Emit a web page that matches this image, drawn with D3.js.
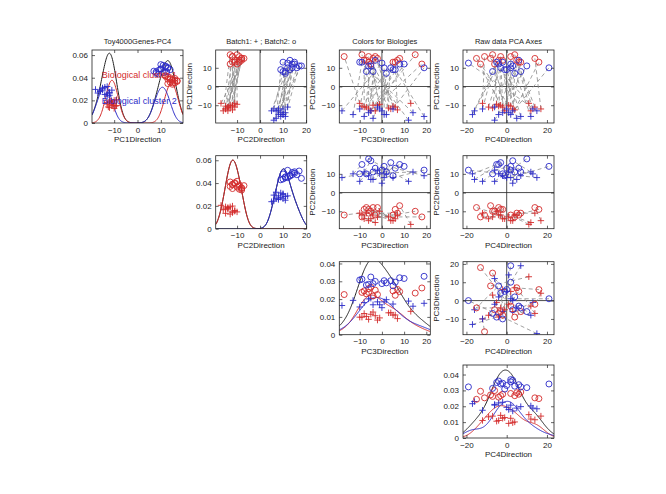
<!DOCTYPE html>
<html>
<head>
<meta charset="utf-8">
<script src="https://cdn.jsdelivr.net/npm/d3@7"></script>
<style>
body { margin: 0; background: #fff; }
text { font-family: "Liberation Sans", Arial, sans-serif; }
</style>
</head>
<body>
<svg id="chart" width="666" height="494"></svg>
<script>
// labels
const pcNames = ["PC1Direction", "PC2Direction", "PC3Direction", "PC4Direction"];
const titles = ["Toy4000Genes-PC4", "Batch1: + ; Batch2: o", "Colors for Biologies", "Raw data PCA Axes"];
const clusterNames = ["Biological cluster 1", "Biological cluster 2"];

// tick labels
const pcTicks = [[-10, 0, 10], [-10, 0, 10, 20], [-10, 0, 10, 20], [-20, 0, 20]];
const pcTicksY = [[-10, 0, 10], [-10, 0, 10, 20], [-10, 0, 10, 20], [-20, 0, 20]];
const densTicks = [[0, 0.02, 0.04, 0.06], [0, 0.02, 0.04, 0.06], [0, 0.01, 0.02, 0.03, 0.04], [0, 0.01, 0.02, 0.03, 0.04]];

// biological cluster 1 (red), batch 1 (+)
const redPlusPC1 = [-9, -11, -12, -10, -13, -9.5, -11.5, -10.5, -12.5, -9, -11, -13, -10, -12, -10.5, -11];
const redPlusPC2 = [-11, -14, -15, -12, -16, -10, -13, -15, -12, -17, -11, -14, -13, -15, -12, -14];
const redPlusPC3 = [-10, -8, -6, -4, -3, -1, 3, 5, 7, 13, -7, -5, -2, 4, -9, 6];
const redPlusPC4 = [-12, -9, 3, -3, 12, -5, -7, 2, 4, 11, 14, -1, 1, 17, -4, -2];
const redPlusHt = [0.24, 0.29, 0.21, 0.31, 0.26, 0.23, 0.30, 0.27, 0.22, 0.32, 0.25, 0.28, 0.20, 0.30, 0.24, 0.27];

// biological cluster 1 (red), batch 2 (o)
const redCircPC1 = [16, 14, 13, 15, 17, 12, 14, 16, 13, 15, 14, 17, 12, 15, 13, 16];
const redCircPC2 = [-12, -9, -11, -8, -13, -10, -8, -12, -9, -7, -11, -10, -13, -8, -12, -9];
const redCircPC3 = [-17, -8, -6, -4, -9, -5, -7, -3, 6, 8, 7, 15, 18, -2, 5, -6];
const redCircPC4 = [-11, -2, 7, -15, 4, -6, -4, 2, 16, -8, 5, -7, -13, 14, 6, -3];
const redCircHt = [0.55, 0.60, 0.63, 0.53, 0.58, 0.65, 0.56, 0.61, 0.54, 0.59, 0.62, 0.57, 0.64, 0.55, 0.60, 0.58];

// biological cluster 2 (blue), batch 1 (+)
const bluePlusPC1 = [-13, -15, -12, -16, -14, -17, -11, -13, -15, -12, -18, -14, -16, -13, -12, -15];
const bluePlusPC2 = [8, 10, 6, 11, 9, 7, 12, 5, 10, 8, 6, 11, 9, 7, 10, 8];
const bluePlusPC3 = [-18, -13, -10, -8, -6, -4, -2, 0, 2, 5, 12, 14, 19, -5, -1, 1];
const bluePlusPC4 = [15, -17, -12, 12, -2, 5, -6, 3, -4, 0, -6, 1, 7, -16, 13, 2];
const bluePlusHt = [0.40, 0.47, 0.38, 0.44, 0.49, 0.41, 0.45, 0.37, 0.48, 0.42, 0.46, 0.39, 0.43, 0.50, 0.41, 0.45];

// biological cluster 2 (blue), batch 2 (o)
const blueCircPC1 = [12.5, 13, 8, 11, 14, 9, 12, 7, 10, 10, 11, 13, 9, 12, 8, 10];
const blueCircPC2 = [12, 15, 10, 17, 13, 9, 14, 11, 16, 12, 18, 10, 13, 15, 11, 14];
const blueCircPC3 = [0, -9, -7, -5, -3, 5, 10, 2, 4, 19, -6, -10, 6, 8, -4, 1];
const blueCircPC4 = [-19, -5, -7, 3, 6, -1, 2, 4, -3, 2, 10, -2, 0, -4, 7, 21];
const blueCircHt = [0.70, 0.76, 0.68, 0.79, 0.73, 0.67, 0.77, 0.71, 0.74, 0.80, 0.69, 0.75, 0.72, 0.78, 0.70, 0.74];

const RED = "#d42b2b", BLUE = "#2b2bc8", GREY = "#8a8a8a", INK = "#222";

const groups = [
  { color: RED, sym: "+", pcs: [redPlusPC1, redPlusPC2, redPlusPC3, redPlusPC4], ht: redPlusHt },
  { color: BLUE, sym: "+", pcs: [bluePlusPC1, bluePlusPC2, bluePlusPC3, bluePlusPC4], ht: bluePlusHt },
  { color: RED, sym: "o", pcs: [redCircPC1, redCircPC2, redCircPC3, redCircPC4], ht: redCircHt },
  { color: BLUE, sym: "o", pcs: [blueCircPC1, blueCircPC2, blueCircPC3, blueCircPC4], ht: blueCircHt }
];
// batch pairs: + sample i goes with o sample i of the same colour
const pairs = [[groups[0], groups[2]], [groups[1], groups[3]]];

// layout
const colX = [92, 215.7, 339.3, 463];
const rowY = [50, 155.7, 261.7, 365];
const W = 91, H = 73;
const pcDom = [[-19.5, 19.5], [-19.3, 20.3], [-19.2, 21.8], [-21.7, 23.5]];
const pcDomY = [[-19.5, 19.5], [-19.3, 19.7], [-18.6, 21.2], [-21.7, 23.5]];
const densMax = [0.0645, 0.064, 0.041, 0.046];
const bw = [2.3, 2.0, 5.0, 4.2];

const svg = d3.select("#chart");
const defs = svg.append("defs");

function marker(g, sym, color, x, y) {
  if (sym === "o") {
    g.append("circle").attr("cx", x).attr("cy", y).attr("r", 3)
      .attr("fill", "none").attr("stroke", color).attr("stroke-width", 0.9);
  } else {
    g.append("path").attr("d", `M${x - 3.2},${y}H${x + 3.2}M${x},${y - 3.2}V${y + 3.2}`)
      .attr("stroke", color).attr("stroke-width", 0.9);
  }
}

function frame(g, x, y, xTicks, yTicks, yFmt) {
  g.append("g").attr("transform", `translate(0,${H})`)
    .call(d3.axisBottom(x).tickValues(xTicks).tickSize(-3).tickPadding(4).tickFormat(d3.format("d")));
  g.append("g").call(d3.axisTop(x).tickValues(xTicks).tickSize(-3).tickFormat(""));
  g.append("g").call(d3.axisLeft(y).tickValues(yTicks).tickSize(-3).tickPadding(4).tickFormat(yFmt));
  g.append("g").attr("transform", `translate(${W},0)`)
    .call(d3.axisRight(y).tickValues(yTicks).tickSize(-3).tickFormat(""));
  g.selectAll(".domain").remove();
  g.selectAll(".tick line").attr("stroke", INK).attr("stroke-width", 0.7);
  g.selectAll(".tick text").attr("font-size", 8).attr("fill", INK)
    .attr("font-family", "Liberation Sans, Arial, sans-serif");
  g.append("rect").attr("width", W).attr("height", H)
    .attr("fill", "none").attr("stroke", INK).attr("stroke-width", 0.8);
}

function kde(vals, h, n) {
  return t => d3.sum(vals, v => Math.exp(-0.5 * ((t - v) / h) ** 2)) / (h * Math.sqrt(2 * Math.PI) * n);
}

for (let r = 0; r < 4; r++) {
  for (let c = r; c < 4; c++) {
    const g = svg.append("g").attr("transform", `translate(${colX[c]},${rowY[r]})`);
    const clipId = `clip${r}${c}`;
    defs.append("clipPath").attr("id", clipId).append("rect").attr("width", W).attr("height", H);
    const x = d3.scaleLinear().domain(pcDom[c]).range([0, W]);
    const body = g.append("g").attr("clip-path", `url(#${clipId})`);

    if (r === c) {
      // density panel
      const y = d3.scaleLinear().domain([0, densMax[r]]).range([H, 0]);
      const n = d3.sum(groups, gr => gr.pcs[c].length);
      const all = groups.flatMap(gr => gr.pcs[c]);
      const redV = groups.filter(gr => gr.color === RED).flatMap(gr => gr.pcs[c]);
      const blueV = groups.filter(gr => gr.color === BLUE).flatMap(gr => gr.pcs[c]);
      const grid = d3.range(0, 201).map(i => pcDom[c][0] + (pcDom[c][1] - pcDom[c][0]) * i / 200);
      const line = d3.line().x(d => x(d[0])).y(d => y(d[1]));
      [[all, INK], [redV, RED], [blueV, BLUE]].forEach(([vals, col]) => {
        const f = kde(vals, bw[c], n);
        body.append("path").datum(grid.map(t => [t, f(t)])).attr("d", line)
          .attr("fill", "none").attr("stroke", col).attr("stroke-width", 1);
      });
      groups.forEach(gr => {
        gr.pcs[c].forEach((v, i) => marker(body, gr.sym, gr.color, x(v), y(gr.ht[i] * densMax[r])));
      });
      frame(g, x, y, pcTicks[c], densTicks[r], d => d === 0 ? "0" : d3.format(".2f")(d));
      if (r === 0) {
        g.append("text").attr("x", x(-15.3)).attr("y", y(0.0425)).attr("dy", "0.35em")
          .attr("font-size", 9).attr("fill", RED).text(clusterNames[0]);
        g.append("text").attr("x", x(-15.3)).attr("y", y(0.0195)).attr("dy", "0.35em")
          .attr("font-size", 9).attr("fill", BLUE).text(clusterNames[1]);
      }
    } else {
      // scatter panel, row PC on y, column PC on x
      const y = d3.scaleLinear().domain(pcDomY[r]).range([H, 0]);
      body.append("line").attr("x1", x(0)).attr("x2", x(0)).attr("y1", 0).attr("y2", H)
        .attr("stroke", INK).attr("stroke-width", 0.8);
      body.append("line").attr("x1", 0).attr("x2", W).attr("y1", y(0)).attr("y2", y(0))
        .attr("stroke", INK).attr("stroke-width", 0.8);
      pairs.forEach(([a, b]) => {
        a.pcs[c].forEach((v, i) => {
          body.append("line")
            .attr("x1", x(v)).attr("y1", y(a.pcs[r][i]))
            .attr("x2", x(b.pcs[c][i])).attr("y2", y(b.pcs[r][i]))
            .attr("stroke", GREY).attr("stroke-width", 0.8).attr("stroke-dasharray", "4,3");
        });
      });
      groups.forEach(gr => {
        gr.pcs[c].forEach((v, i) => marker(body, gr.sym, gr.color, x(v), y(gr.pcs[r][i])));
      });
      frame(g, x, y, pcTicks[c], pcTicksY[r].filter(t => t >= pcDomY[r][0] && t <= pcDomY[r][1]), d3.format("d"));
      g.append("text").attr("transform", `translate(-24,${H / 2}) rotate(-90)`)
        .attr("text-anchor", "middle").attr("font-size", 8).attr("fill", INK).text(pcNames[r]);
    }

    g.append("text").attr("x", W / 2).attr("y", H + 19).attr("text-anchor", "middle")
      .attr("font-size", 8).attr("fill", INK).text(pcNames[c]);
    if (r === 0) {
      g.append("text").attr("x", W / 2).attr("y", -6).attr("text-anchor", "middle")
        .attr("font-size", 7.5).attr("fill", INK).text(titles[c]);
    }
  }
}
</script>
</body>
</html>
